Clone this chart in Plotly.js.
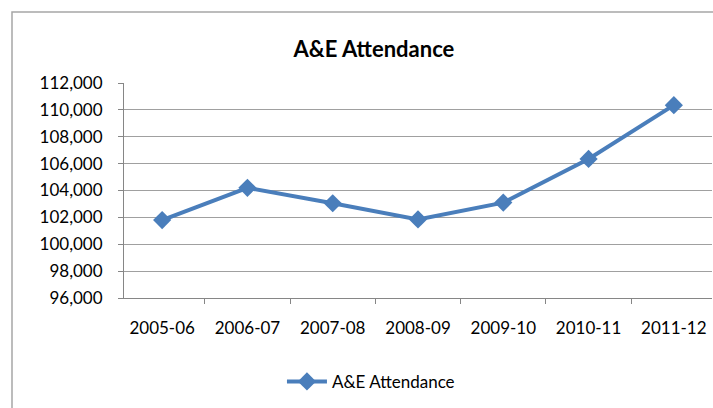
<!DOCTYPE html>
<html>
<head>
<meta charset="utf-8">
<script src="https://cdn.plot.ly/plotly-3.0.1.min.js"></script>
<style>
html,body{margin:0;padding:0;background:#fff;}
#chart{width:713px;height:408px;}
</style>
</head>
<body>
<div id="chart"></div>
<script>
const categories = ["2005-06","2006-07","2007-08","2008-09","2009-10","2010-11","2011-12"];
const attendance = [101800, 104200, 103050, 101850, 103100, 106350, 110350];
const seriesName = "A&E Attendance";
const yTickValues = [96000, 98000, 100000, 102000, 104000, 106000, 108000, 110000, 112000];

const FONT = "Lato, 'Open Sans', sans-serif";

const trace = {
  x: categories,
  y: attendance,
  name: seriesName,
  type: "scatter",
  mode: "lines+markers",
  line: {color: "#4a7ebb", width: 4},
  marker: {symbol: "diamond", size: 14, color: "#4a7ebb"},
  showlegend: true
};

const layout = {
  width: 713,
  height: 408,
  margin: {l: 124, r: 1, t: 83, b: 110},
  paper_bgcolor: "#ffffff",
  plot_bgcolor: "#ffffff",
  font: {family: FONT, size: 17, color: "#000"},
  title: {
    text: "<b>A&E Attendance</b>",
    font: {family: FONT, size: 22, color: "#000"},
    x: 0.425, xanchor: "center",
    y: 0.878, yanchor: "middle",
    xref: "paper", yref: "container"
  },
  xaxis: {
    type: "category",
    showgrid: false,
    showline: true,
    linecolor: "#868686",
    linewidth: 1,
    ticks: "outside",
    tickson: "boundaries",
    ticklen: 5,
    tickcolor: "#868686",
    tickfont: {family: FONT, size: 17, color: "#000"},
    ticklabelstandoff: 15,
    zeroline: false,
    fixedrange: true
  },
  yaxis: {
    range: [96000, 112000],
    tickvals: yTickValues,
    tickformat: ",d",
    showgrid: true,
    gridcolor: "#a0a0a0",
    gridwidth: 1,
    showline: true,
    linecolor: "#868686",
    linewidth: 1,
    ticks: "outside",
    ticklen: 5,
    tickcolor: "#868686",
    tickfont: {family: FONT, size: 17, color: "#000"},
    ticklabelstandoff: 12,
    zeroline: false,
    fixedrange: true
  },
  showlegend: true,
  legend: {
    orientation: "h",
    x: 0.42, xanchor: "center",
    y: -0.39, yanchor: "middle",
    font: {family: FONT, size: 17, color: "#000"},
    itemwidth: 40
  },
  shapes: [{
    type: "rect",
    xref: "paper", yref: "paper",
    x0: (12 - 124) / 588, x1: 1.05,
    y0: -0.6, y1: (298 - 12) / 215,
    line: {color: "#a6a6a6", width: 1.5},
    fillcolor: "rgba(0,0,0,0)",
    layer: "below"
  }]
};

Plotly.newPlot("chart", [trace], layout, {displayModeBar: false, staticPlot: true});
</script>
</body>
</html>
